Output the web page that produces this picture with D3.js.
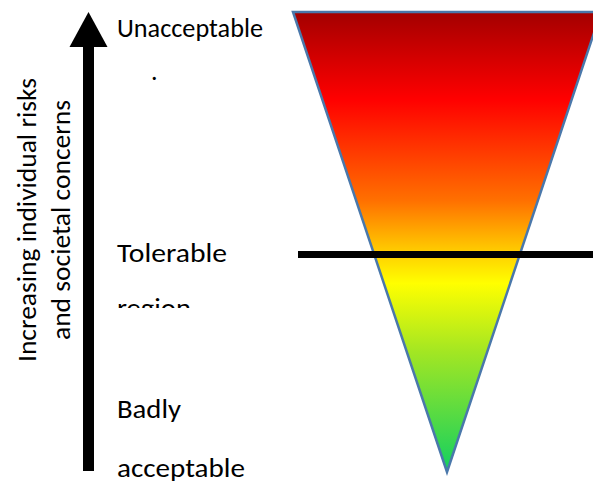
<!DOCTYPE html>
<html><head><meta charset="utf-8">
<script src="https://cdn.jsdelivr.net/npm/d3@7"></script>
<style>html,body{margin:0;padding:0;background:#fff;overflow:hidden}</style>
</head><body>
<svg id="c" width="593" height="482"></svg>
<script>
// level labels (risk level 0 = bottom, 1 = top)
const levelLabels = ["Unacceptable", "Tolerable", "Badly"];
const levelSecondLines = ["", "region", "acceptable"];
const axisTitle = ["Increasing individual risks", "and societal concerns"];
// gradient colour stops (offset from top to bottom)
const stopOffsets = [0, 0.19, 0.41, 0.51, 0.59, 0.74, 1];
const stopColors = ["#a30000", "#ff0000", "#ff7000", "#ffc400", "#ffff00", "#a2e623", "#12d060"];
const thresholdLevel = 0.473;

const svg = d3.select("#c");
const y = d3.scaleLinear().domain([0, 1]).range([472, 12]);
const x = d3.scaleLinear().domain([-1, 1]).range([293, 601]);

const defs = svg.append("defs");
const grad = defs.append("linearGradient").attr("id", "g")
  .attr("x1", 0).attr("y1", 0).attr("x2", 0).attr("y2", 1);
grad.selectAll("stop").data(stopOffsets).join("stop")
  .attr("offset", d => d).attr("stop-color", (d, i) => stopColors[i]);

defs.append("clipPath").attr("id", "clipRegion").append("rect")
  .attr("x", 100).attr("y", 0).attr("width", 200).attr("height", 308);

// triangle
const tri = [[x(-1), y(1)], [x(1), y(1)], [x(0), y(0)]];
svg.append("path").attr("d", d3.line()(tri) + "Z")
  .attr("fill", "url(#g)").attr("stroke", "#4a78ab").attr("stroke-width", 2.5)
  .attr("stroke-linejoin", "miter");

// threshold line
svg.append("line").attr("x1", 298).attr("x2", 593)
  .attr("y1", y(thresholdLevel)).attr("y2", y(thresholdLevel))
  .attr("stroke", "#000").attr("stroke-width", 7);

// arrow
const ax = 88.5;
svg.append("rect").attr("x", ax - 5.5).attr("width", 11).attr("y", 44).attr("height", 427).attr("fill", "#000");
svg.append("path").attr("d", `M${ax},${y(1)} L${ax - 19},${47} L${ax + 19},${47} Z`).attr("fill", "#000");

const font = "Carlito, Lato, 'Liberation Sans', sans-serif";
const fs = 26;
// labels
const lab = svg.append("g").attr("font-family", font).attr("font-size", fs).attr("fill", "#000");
lab.append("text").attr("x", 117).attr("y", 37).text(levelLabels[0]).attr("textLength", 146).attr("lengthAdjust", "spacingAndGlyphs");
lab.append("text").attr("x", 151).attr("y", 80).text(".");
lab.append("text").attr("x", 117).attr("y", 262).text(levelLabels[1]).attr("textLength", 110).attr("lengthAdjust", "spacingAndGlyphs");
lab.append("text").attr("x", 117).attr("y", 317).text(levelSecondLines[1]).attr("textLength", 74).attr("lengthAdjust", "spacingAndGlyphs").attr("clip-path", "url(#clipRegion)");
lab.append("text").attr("x", 117).attr("y", 418).text(levelLabels[2]).attr("textLength", 64).attr("lengthAdjust", "spacingAndGlyphs");
lab.append("text").attr("x", 117).attr("y", 477).text(levelSecondLines[2]).attr("textLength", 128).attr("lengthAdjust", "spacingAndGlyphs");

// axis title (rotated)
const tg = svg.append("g").attr("font-family", font).attr("font-size", fs).attr("fill", "#000");
tg.append("text").attr("transform", "translate(36,220) rotate(-90)").attr("text-anchor", "middle")
  .text(axisTitle[0]).attr("textLength", 284).attr("lengthAdjust", "spacingAndGlyphs");
tg.append("text").attr("transform", "translate(70,220) rotate(-90)").attr("text-anchor", "middle")
  .text(axisTitle[1]).attr("textLength", 240).attr("lengthAdjust", "spacingAndGlyphs");
</script>
</body></html>
